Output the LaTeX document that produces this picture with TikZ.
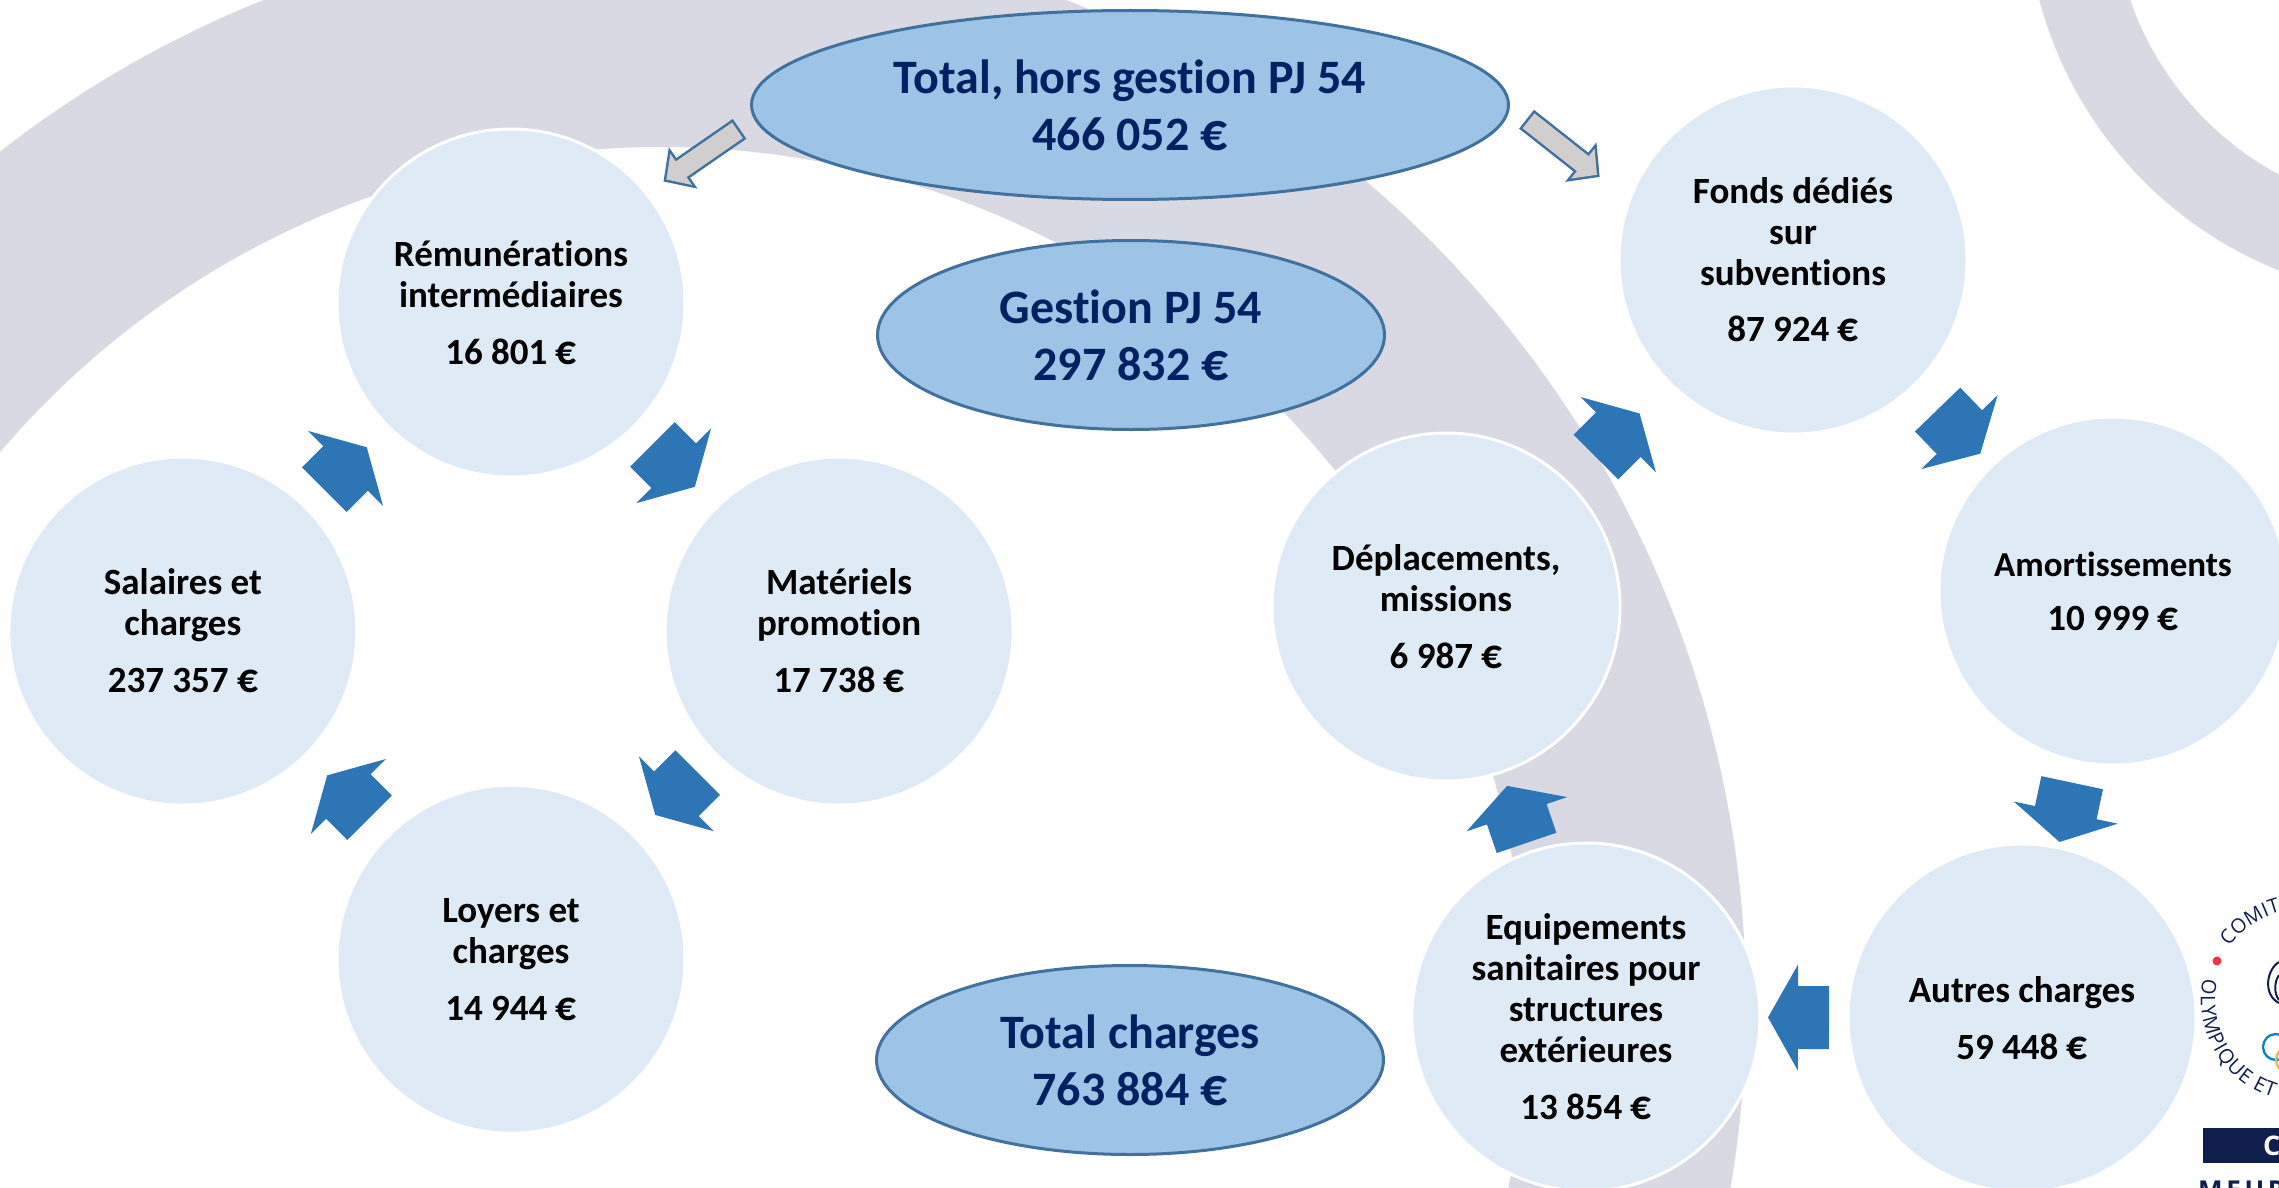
\documentclass[tikz,border=0pt]{standalone}
\usepackage{fontspec}
\setmainfont{Carlito}[Ligatures=CommonOff]
\newfontfamily\logofont{Open Sans}
\newfontfamily\logowide[LetterSpace=14]{Open Sans}
\usetikzlibrary{shapes.geometric,arrows.meta,decorations.text}
\definecolor{ringgray}{HTML}{D8D9E2}
\definecolor{bubblue}{HTML}{DEEAF6}
\definecolor{ovalblue}{HTML}{9DC3E6}
\definecolor{edgeblue}{HTML}{41719C}
\definecolor{flowblue}{HTML}{2E75B6}
\definecolor{titlenavy}{HTML}{002060}
\definecolor{hollowgray}{HTML}{D0CECE}
\definecolor{logonavy}{HTML}{0E1F4D}
\definecolor{logored}{HTML}{EF3340}
\definecolor{logoblue}{HTML}{0085C7}
\definecolor{logoorange}{HTML}{F4B335}
\newcommand{\eur}{\scalebox{1.12}{€}}
\begin{document}
\begin{tikzpicture}[x=1pt,y=-1pt,node distance = 464pt]
	\tikzstyle{bub} = [circle,fill=bubblue,draw=white,line width=3pt,minimum size=348pt,inner sep=0pt,outer sep=0pt,align=center,font=\fontsize{37}{41}\selectfont\bfseries]
	\tikzstyle{oval} = [ellipse,fill=ovalblue,draw=edgeblue,line width=3pt,inner sep=0pt,outer sep=0pt,minimum height=189pt,align=center,text=titlenavy,font=\fontsize{48}{57}\selectfont\bfseries]
	\tikzstyle{flow} = [draw=flowblue,line width=63pt,-{Triangle[length=30pt,width=105pt]}]
	\tikzstyle{hollow} = [draw=edgeblue,line width=24pt,-{Triangle[length=24pt,width=49pt]}]
	\tikzstyle{hollowin} = [draw=hollowgray,line width=19pt,-{Triangle[length=18pt,width=37pt]}]
	\tikzstyle{logotext} = [decorate,decoration={text along path,text align=fit to path}]
	\path[use as bounding box,clip] (0,0) rectangle (2279,1188);
	\fill[white] (0,0) rectangle (2279,1188);
	% background rings
	\fill[ringgray,even odd rule] (665,1004) circle (1081pt) (660,1013) circle (866pt);
	\fill[ringgray,even odd rule] (2428,-103) circle (402pt) (2428,-103) circle (315pt);
	% left loop
	\node(rem)[bub] at (511,303) {Rémunérations\\intermédiaires\\[16pt]16~801~\eur};
	\node(mat)[bub, below right of = rem] {Matériels\\promotion\\[16pt]17~738~\eur};
	\node(loy)[bub, below left of = mat] {Loyers et\\charges\\[16pt]14~944~\eur};
	\node(sal)[bub, above left of = loy] {Salaires et\\charges\\[16pt]237~357~\eur};
	% right loop
	\node(fonds)[bub] at (1793,260) {Fonds dédiés\\sur\\subventions\\[15pt]87~924~\eur};
	\node(amo)[bub] at (2113,591) {{\fontsize{35}{41}\selectfont Amortissements}\\[13pt]10~999~\eur};
	\node(aut)[bub] at (2022,1018) {Autres charges\\[16pt]59~448~\eur};
	\node(equ)[bub] at (1586,1017) {Equipements\\sanitaires pour\\structures\\extérieures\\[16pt]13~854~\eur};
	\node(dep)[bub] at (1446,607) {Déplacements,\\missions\\[16pt]6~987~\eur};
	% totals
	\node(total)[oval, minimum width=757pt] at (1130,105) {Total, hors gestion PJ 54\\466~052~\eur};
	\node(gest)[oval, minimum width=507pt] at (1131,335) {Gestion PJ 54\\297~832~\eur};
	\node(charges)[oval, minimum width=507pt] at (1130,1060) {Total charges\\763~884~\eur};
	% block arrows
	\draw[flow, shorten <=26pt, shorten >=30pt](rem) -- (mat);
	\draw[flow, shorten <=26pt, shorten >=30pt](mat) -- (loy);
	\draw[flow, shorten <=26pt, shorten >=30pt](loy) -- (sal);
	\draw[flow, shorten <=26pt, shorten >=30pt](sal) -- (rem);
	\draw[flow, shorten <=38pt, shorten >=43pt](dep) -- (fonds);
	\draw[flow, shorten <=34pt, shorten >=17pt](fonds) -- (amo);
	\draw[flow, shorten <=22pt, shorten >=6pt](amo) -- (aut);
	\draw[flow, shorten <=19pt, shorten >=8pt](aut) -- (equ);
	\draw[flow, shorten <=10pt, shorten >=15pt](equ) -- (dep);
	% grey arrows
	\draw[hollow, shorten <=19pt, shorten >=21pt](total.182) -- (rem.39);
	\draw[hollowin, shorten <=21.5pt, shorten >=24.5pt](total.182) -- (rem.39);
	\draw[hollow, shorten <=23pt, shorten >=38pt](total.0) -- (fonds.160);
	\draw[hollowin, shorten <=25.5pt, shorten >=41.5pt](total.0) -- (fonds.160);
	% logo
	\coordinate(logo) at (2303,1000);
	\fill[logored] (2217,961) circle (4.5pt);
	\path[logotext,decoration={text={|\logofont\fontsize{20}{20}\selectfont\color{logonavy}|COMITÉ}}] (logo) ++(144:91pt) arc[start angle=144,end angle=97,radius=91pt];
	\path[logotext,decoration={text={|\logofont\fontsize{20}{20}\selectfont\color{logonavy}|OLYMPIQUE ET}}] (logo) ++(168:102pt) arc[start angle=168,end angle=253,radius=102pt];
	\draw[logonavy,line width=2pt] (2279,962) .. controls (2266,970) and (2263,995) .. (2279,1003);
	\draw[logonavy,line width=2pt] (2279,975) .. controls (2274,982) and (2274,994) .. (2279,1000);
	\draw[logoblue,line width=2.3pt] (2276,1047) circle (13pt);
	\draw[logoorange,line width=2.3pt] (2289,1060) circle (13pt);
	\fill[logonavy] (2203,1128) rectangle (2279,1163);
	\node(cnos)[anchor=west,inner sep=0pt,text=white,font=\logofont\fontsize{27}{27}\selectfont\bfseries] at (2263,1146) {C};
	\node(meur)[anchor=base west,inner sep=0pt,text=logonavy,font=\logowide\bfseries\fontsize{26}{26}\selectfont] at (2198,1199) {MEUR};
\end{tikzpicture}
\end{document}
